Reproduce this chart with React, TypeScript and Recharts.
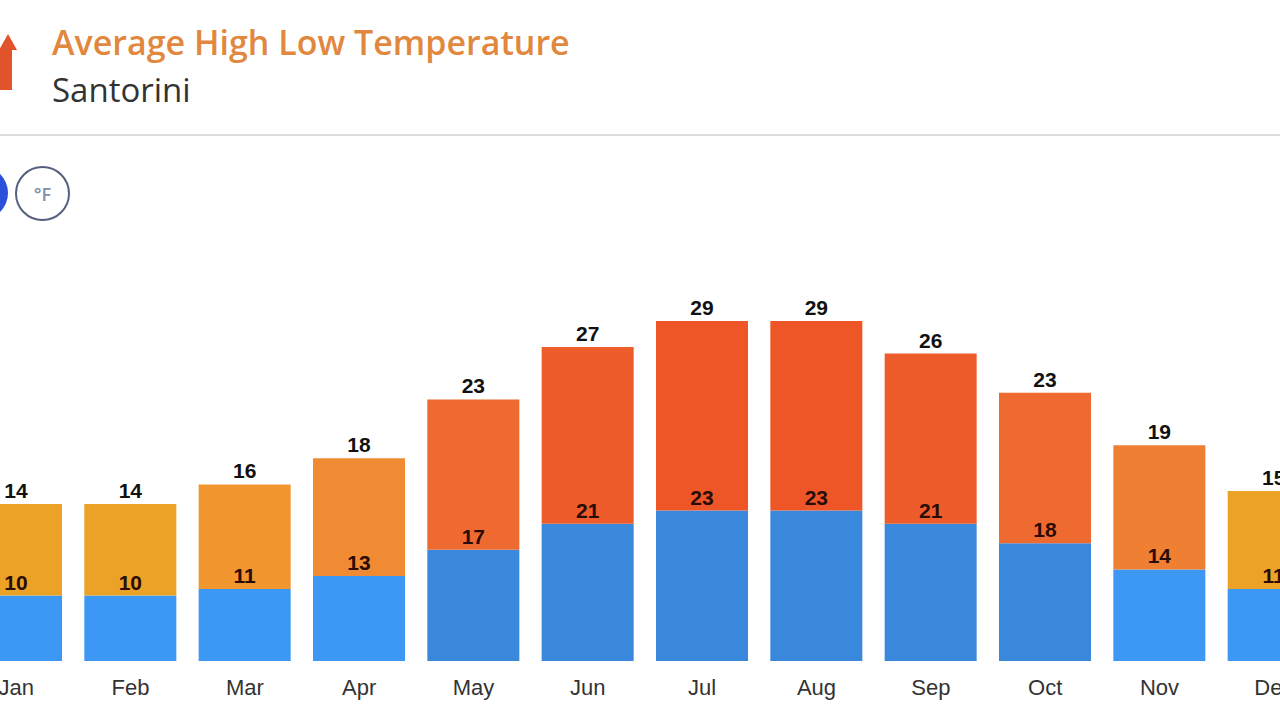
import React from "react";
import { BarChart, Bar, XAxis, YAxis, LabelList, Cell } from "recharts";

const months = ["Jan", "Feb", "Mar", "Apr", "May", "Jun", "Jul", "Aug", "Sep", "Oct", "Nov", "Dec"];
const lows = [10, 10, 11, 13, 17, 21, 23, 23, 21, 18, 14, 11];
const highs = [14, 14, 16, 18, 23, 27, 29, 29, 26, 23, 19, 15];

const data = months.map((m, i) => ({ month: m, low: lows[i], high: highs[i] }));

// colour scale by temperature, like the site does
function highColor(t: number) {
  if (t <= 15) return "#eca226";
  if (t <= 17) return "#f1952f";
  if (t <= 18) return "#f08b33";
  if (t <= 19) return "#ef7f32";
  if (t <= 23) return "#ee6a31";
  if (t <= 27) return "#ee5c2c";
  return "#ee5628";
}

function lowColor(t: number) {
  return t <= 14 ? "#3d97f4" : "#3a88db";
}

const font = "'Liberation Sans', Arial, sans-serif";

export default function App() {
  return (
    <div
      style={{
        position: "fixed",
        left: 0,
        top: 0,
        width: 1280,
        height: 720,
        overflow: "hidden",
        background: "#fff"
      }}
    >
      <svg style={{ position: "absolute", left: 0, top: 30 }} width={20} height={62}>
        <polygon points="8,4 17,20 12,20 12,60 0,60 0,20 -1,20" fill="#e0532b" />
      </svg>
      <div
        style={{
          position: "absolute",
          left: 52,
          top: 19,
          fontFamily: "'Open Sans', sans-serif",
          fontWeight: 600,
          fontSize: 34,
          color: "#e1883e",
          whiteSpace: "nowrap"
        }}
      >
        Average High Low Temperature
      </div>
      <div
        style={{
          position: "absolute",
          left: 52,
          top: 67,
          fontFamily: "'Open Sans', sans-serif",
          fontSize: 33,
          color: "#333",
          whiteSpace: "nowrap"
        }}
      >
        Santorini
      </div>
      <div
        style={{
          position: "absolute",
          left: 0,
          top: 134,
          width: 1280,
          height: 2,
          background: "#dcdcdc"
        }}
      />
      <div
        style={{
          position: "absolute",
          left: -46,
          top: 166,
          width: 54,
          height: 54,
          borderRadius: "50%",
          background: "#2b50d9"
        }}
      />
      <div
        style={{
          position: "absolute",
          left: 15,
          top: 166,
          width: 51,
          height: 51,
          borderRadius: "50%",
          border: "2px solid #55607e",
          display: "flex",
          alignItems: "center",
          justifyContent: "center",
          fontFamily: "'Open Sans', sans-serif",
          fontWeight: 600,
          fontSize: 18,
          color: "#8190ae"
        }}
      >
        °F
      </div>

      <div style={{ position: "absolute", left: -41, top: 250 }}>
        <BarChart
          width={1372}
          height={470}
          data={data}
          margin={{ top: 18.6, right: 0, bottom: 0, left: 0 }}
          barSize={92}
        >
          <YAxis hide domain={[0, 60]} />
          <XAxis
            dataKey="month"
            height={59}
            axisLine={false}
            tickLine={false}
            tickMargin={12}
            interval={0}
            tick={{ fontSize: 22, fill: "#333", fontFamily: font }}
          />
          <Bar dataKey="low" stackId="t" isAnimationActive={false}>
            {data.map((d, i) => (
              <Cell key={i} fill={lowColor(d.low)} />
            ))}
            <LabelList
              dataKey="low"
              position="top"
              offset={6}
              style={{ fontSize: 21, fontWeight: 700, fill: "#2a0c06", fontFamily: font }}
            />
          </Bar>
          <Bar dataKey="high" stackId="t" isAnimationActive={false}>
            {data.map((d, i) => (
              <Cell key={i} fill={highColor(d.high)} />
            ))}
            <LabelList
              dataKey="high"
              position="top"
              offset={6}
              style={{ fontSize: 21, fontWeight: 700, fill: "#111", fontFamily: font }}
            />
          </Bar>
        </BarChart>
      </div>
    </div>
  );
}
